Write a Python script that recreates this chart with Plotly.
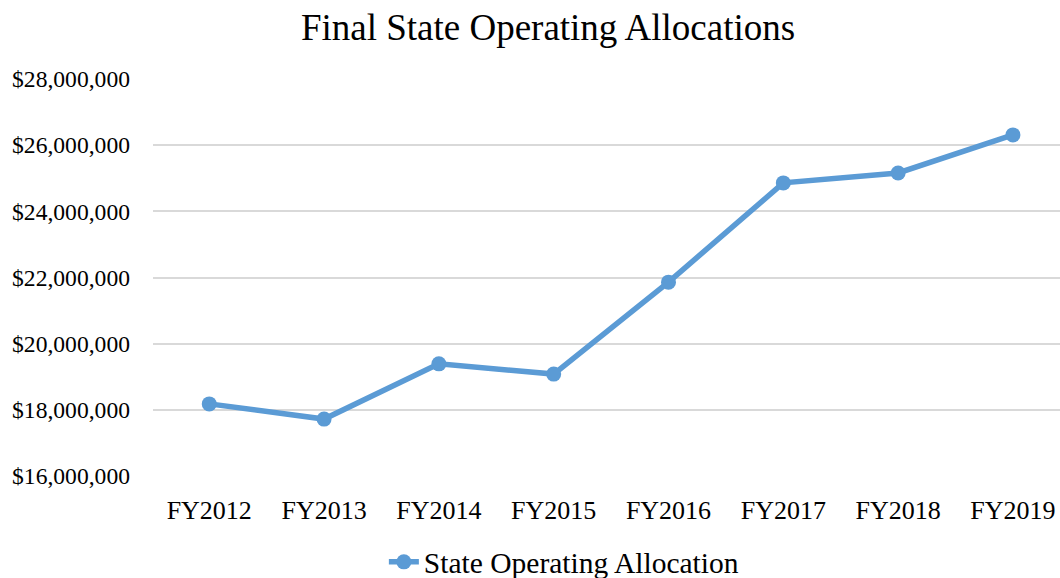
import plotly.graph_objects as go

categories = ["FY2012", "FY2013", "FY2014", "FY2015", "FY2016", "FY2017", "FY2018", "FY2019"]
values = [18180000, 17720000, 19390000, 19080000, 21860000, 24860000, 25160000, 26310000]
series_name = "State Operating Allocation"
y_ticks = [16000000, 18000000, 20000000, 22000000, 24000000, 26000000, 28000000]
y_tick_labels = ["${:,}".format(v) for v in y_ticks]

fig = go.Figure()
fig.add_trace(go.Scatter(
    x=list(range(len(categories))), y=values, name=series_name,
    mode="lines+markers",
    line=dict(color="#5B9BD5", width=5.5),
    marker=dict(color="#5B9BD5", size=15),
))

font = "Liberation Serif, Times New Roman, serif"
fig.update_layout(
    width=1060, height=578,
    paper_bgcolor="white", plot_bgcolor="white",
    margin=dict(l=153, r=0, t=79, b=102, autoexpand=False),
    font=dict(family=font, color="black", size=24),
    title=dict(text="Final State Operating Allocations", x=0.517, xanchor="center",
               y=0.953, yanchor="middle", font=dict(size=37, family=font, color="black")),
    xaxis=dict(range=[-0.49, 7.41], tickvals=list(range(len(categories))), ticktext=categories,
               showgrid=False, zeroline=False, showline=False, ticks="",
               tickfont=dict(size=26, family=font, color="black"), ticklabelstandoff=16),
    yaxis=dict(range=[16000000, 28000000], tickvals=y_ticks, ticktext=y_tick_labels,
               showgrid=True, gridcolor="#D9D9D9", gridwidth=2, zeroline=False,
               showline=False, ticks="", tickfont=dict(size=23.6, family=font, color="black"),
               ticklabelstandoff=22),
    showlegend=True,
    legend=dict(orientation="h", x=0.453, xanchor="center", y=-0.217, yanchor="middle",
                font=dict(size=29.5, family=font, color="black")),
)

fig.write_html("out.html", config={"displayModeBar": False},
               post_script="document.body.style.margin='0';document.body.style.overflow='hidden';")
